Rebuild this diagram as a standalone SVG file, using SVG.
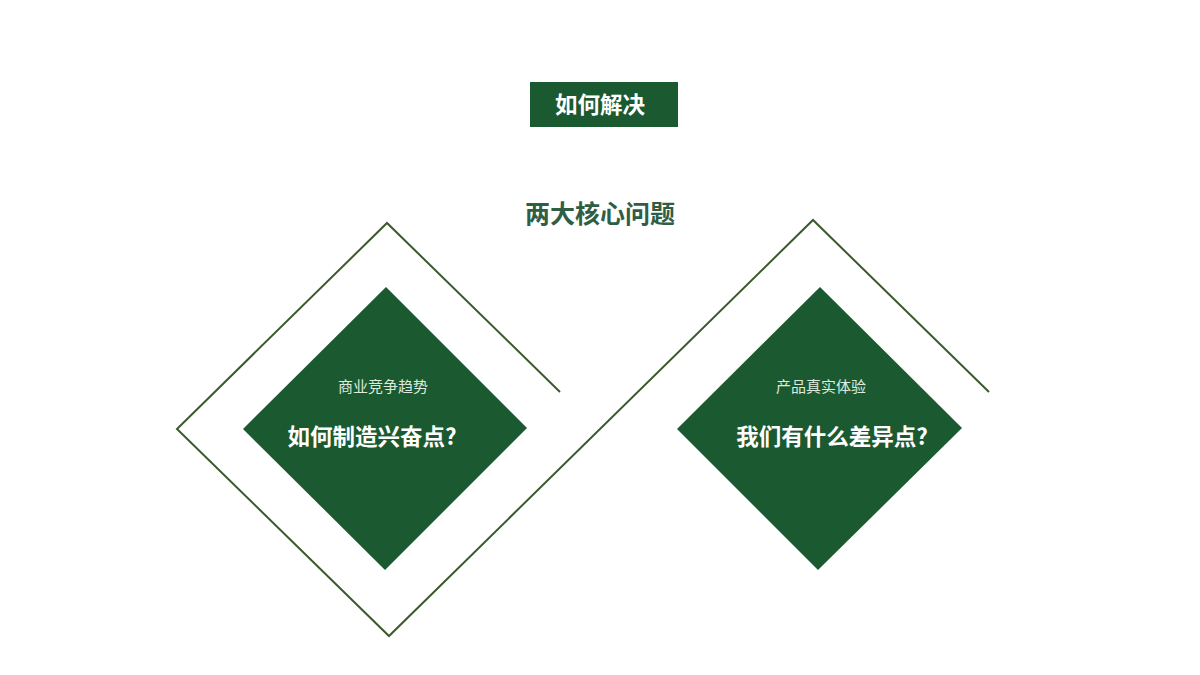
<svg xmlns="http://www.w3.org/2000/svg" width="1200" height="675" viewBox="0 0 1200 675">
<style>
.f{font-family:"Noto Sans CJK SC","Noto Sans",sans-serif;}
.dia{fill:#1b5a30;}
.sub{font-size:15px;fill:#dfeadf;text-anchor:middle;}
.q{font-size:22.5px;font-weight:bold;fill:#ffffff;text-anchor:middle;}
</style>
<rect width="1200" height="675" fill="#ffffff"/>
<g id="header">
<rect x="530" y="82" width="148" height="45" fill="#1b5a30"/>
<text class="f" x="600" y="113" font-size="22.5" font-weight="bold" fill="#ffffff" text-anchor="middle">如何解决</text>
</g>
<g id="title">
<text class="f" x="600" y="223" font-size="25" font-weight="bold" fill="#2f5e45" text-anchor="middle">两大核心问题</text>
</g>
<g id="connectors">
<polyline points="560,392 387,223 177,429 389,636 813,220 989,392" fill="none" stroke="#3b5a2c" stroke-width="2"/>
</g>
<g id="node-left">
<polygon class="dia" points="386,287 527,428 385,570 243,429"/>
<text class="f sub" x="383" y="392">商业竞争趋势</text>
<text class="f q" x="372" y="445">如何制造兴奋点?</text>
</g>
<g id="node-right">
<polygon class="dia" points="820,287 962,428 818,570 677,429"/>
<text class="f sub" x="821" y="392">产品真实体验</text>
<text class="f q" x="832" y="445">我们有什么差异点?</text>
</g>
</svg>
